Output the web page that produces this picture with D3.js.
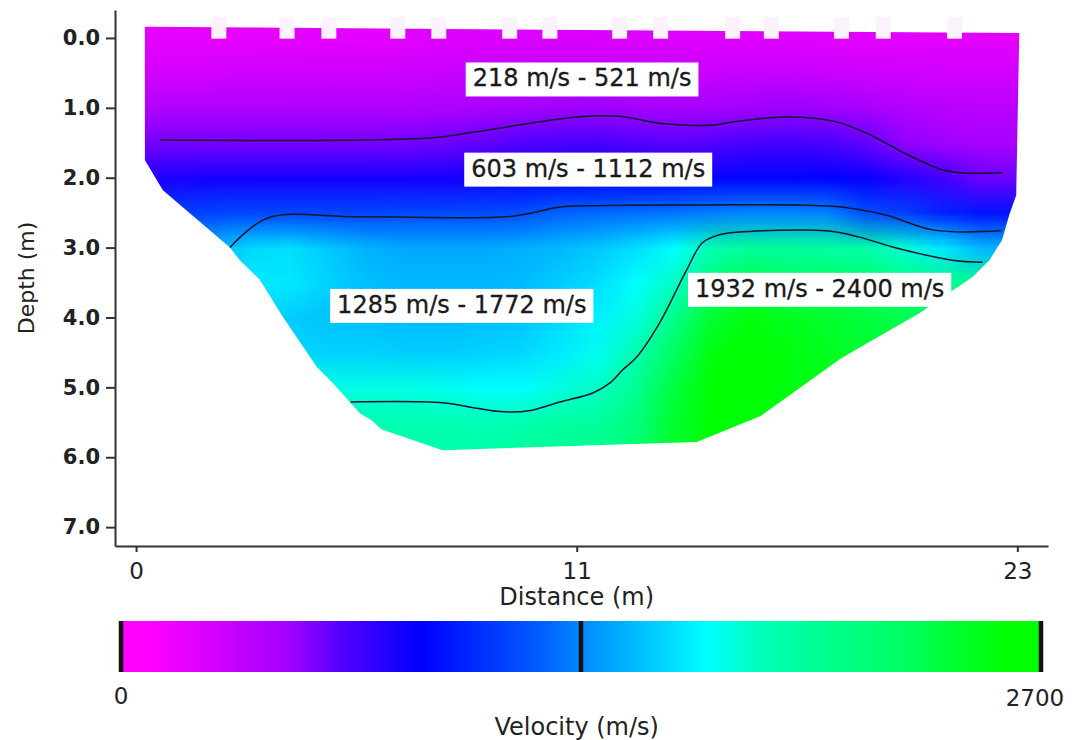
<!DOCTYPE html>
<html>
<head>
<meta charset="utf-8">
<script src="https://cdn.jsdelivr.net/npm/d3@7"></script>
<style>
  body { margin: 0; background: #fff; }
  svg { display: block; font-family: "DejaVu Sans", sans-serif; }
  .axis path, .axis line { stroke: #333; stroke-width: 2; }
  .axis text { fill: #222; }
</style>
</head>
<body>
<div id="chart"></div>
<script>
// grid of the velocity model: one column per metre, one row per half metre of depth
const distances = [0, 1, 2, 3, 4, 5, 6, 7, 8, 9, 10, 11, 12, 13, 14, 15, 16, 17, 18, 19, 20, 21, 22, 23];
const depths = [0, 0.5, 1, 1.5, 2, 2.5, 3, 3.5, 4, 4.5, 5, 5.5, 6];

// velocity (m/s), velocity[column][row]
const velocity = [
  [190, 280, 430, 580, 800, 1100, 1350, 1500, 1530, 1600, 1790, 1900, 1950],
  [190, 280, 430, 580, 810, 1120, 1400, 1550, 1550, 1600, 1790, 1900, 1950],
  [190, 280, 430, 580, 820, 1140, 1500, 1620, 1580, 1600, 1790, 1900, 1950],
  [190, 290, 430, 580, 820, 1150, 1600, 1660, 1580, 1600, 1790, 1900, 1950],
  [200, 290, 430, 580, 820, 1150, 1620, 1650, 1560, 1600, 1790, 1900, 1950],
  [200, 300, 430, 580, 820, 1150, 1550, 1580, 1530, 1580, 1780, 1900, 1950],
  [200, 300, 430, 580, 820, 1150, 1480, 1520, 1520, 1580, 1780, 1900, 1950],
  [210, 310, 440, 585, 820, 1160, 1450, 1500, 1510, 1570, 1780, 1900, 1950],
  [220, 320, 450, 595, 825, 1160, 1450, 1500, 1510, 1570, 1760, 1900, 1950],
  [230, 330, 460, 620, 835, 1170, 1450, 1500, 1520, 1580, 1720, 1890, 1950],
  [240, 340, 480, 650, 850, 1180, 1470, 1510, 1530, 1600, 1720, 1900, 2000],
  [240, 350, 500, 670, 870, 1250, 1500, 1560, 1600, 1660, 1790, 1980, 2050],
  [240, 350, 505, 680, 880, 1270, 1550, 1620, 1680, 1750, 1850, 2000, 2050],
  [230, 340, 490, 650, 880, 1290, 1620, 1720, 1790, 1900, 2050, 2150, 2250],
  [220, 330, 480, 630, 880, 1300, 1720, 1850, 2100, 2300, 2400, 2450, 2450],
  [220, 320, 480, 650, 900, 1330, 1900, 2200, 2450, 2550, 2600, 2600, 2550],
  [220, 330, 500, 680, 900, 1350, 2000, 2350, 2550, 2600, 2600, 2550, 2500],
  [220, 330, 510, 690, 900, 1350, 2000, 2300, 2500, 2550, 2550, 2500, 2450],
  [210, 320, 500, 670, 890, 1340, 1980, 2280, 2450, 2500, 2500, 2450, 2400],
  [200, 310, 470, 620, 860, 1180, 1950, 2250, 2400, 2450, 2450, 2450, 2400],
  [200, 290, 420, 530, 780, 1120, 1820, 2150, 2350, 2400, 2400, 2400, 2400],
  [200, 280, 400, 500, 700, 1020, 1650, 2100, 2300, 2400, 2400, 2400, 2400],
  [200, 280, 380, 470, 600, 950, 1500, 2050, 2250, 2350, 2400, 2400, 2400],
  [200, 280, 380, 470, 600, 950, 1480, 2000, 2250, 2350, 2400, 2400, 2400]
];

// outline of the covered area [distance, depth]
const boundary = [
  [0.23, -0.16], [0.23, 1.75], [0.31, 1.82], [0.70, 2.18], [2.45, 3.0], [2.71, 3.18],
  [3.23, 3.46], [3.83, 3.99], [4.72, 4.71], [5.14, 4.94], [5.84, 5.37], [6.15, 5.47],
  [6.4, 5.6], [8.0, 5.9], [14.63, 5.78], [16.3, 5.41], [18.41, 4.58], [20.44, 3.94],
  [21.56, 3.52], [21.83, 3.42], [22.27, 3.18], [22.6, 2.89], [22.79, 2.53], [22.97, 2.25],
  [23.05, -0.07]
];

// geophone positions along the top (m)
const geophones = [2.16, 3.94, 5.03, 6.83, 7.9, 9.75, 10.8, 12.62, 13.69, 15.57, 16.58, 18.41, 19.5, 21.36];

// layer boundaries [distance, depth]
const contourTop = [
  [0.63, 1.46], [7.67, 1.43], [8.79, 1.35], [10.53, 1.2], [11.5, 1.13], [12.62, 1.12],
  [13.66, 1.22], [15.0, 1.25], [15.6, 1.2], [16.9, 1.13], [18.2, 1.19], [19.1, 1.37],
  [20.1, 1.66], [21.0, 1.88], [21.5, 1.93], [22.6, 1.93]
];
const contourMid = [
  [2.45, 3.0], [3.42, 2.58], [5.84, 2.56], [9.83, 2.55], [11.06, 2.42], [11.9, 2.4],
  [14.7, 2.39], [18.2, 2.41], [19.53, 2.53], [20.83, 2.75], [22.58, 2.76]
];
const contourDeep = [
  [5.6, 5.21], [8.0, 5.22], [8.9, 5.3], [9.6, 5.35], [10.3, 5.33], [11.06, 5.21],
  [11.92, 5.08], [12.36, 4.94], [12.7, 4.75], [13.06, 4.57], [13.66, 4.08], [14.37, 3.32],
  [14.78, 2.93], [15.2, 2.82], [15.67, 2.78], [18.02, 2.76], [18.88, 2.85], [19.74, 2.99],
  [21.3, 3.18], [22.09, 3.21]
];

// zone labels
const zoneLabels = ['218 m/s - 521 m/s', '603 m/s - 1112 m/s', '1285 m/s - 1772 m/s', '1932 m/s - 2400 m/s'];
const zoneDistance = [11.64, 11.8, 8.5, 17.84];
const zoneDepth = [0.58, 1.87, 3.82, 3.59];

// axes
const depthTicks = [0, 1, 2, 3, 4, 5, 6, 7];
const distanceTicks = [0, 11.5, 23];
const distanceTickLabels = ['0', '11', '23'];

// colour scale
const velStops = [0, 80, 500, 650, 880, 1240, 1370, 1720, 1900, 2300, 2590, 2700];
const colorStops = ['#ff00ff', '#ff00ff', '#a000ff', '#5000ff', '#0000ff', '#0060ff',
  '#0090ff', '#00ffff', '#00ffb0', '#00ff60', '#00ff00', '#00ff00'];
const velMax = 2700;
const barTicks = [0, 1350, 2700];

const width = 1072, height = 740;

const svg = d3.select('#chart').append('svg')
  .attr('width', width)
  .attr('height', height);

const x = d3.scaleLinear().domain([-0.55, 23.8]).range([115, 1048]);
const y = d3.scaleLinear().domain([-0.4, 7.27]).range([10, 546]);
const color = d3.scaleLinear().domain(velStops).range(colorStops)
  .interpolate(d3.interpolateRgb).clamp(true);

// Paint the grid into a tiny canvas and let the browser smooth it up to size
const nCols = distances.length, nRows = depths.length;
const small = document.createElement('canvas');
small.width = nCols;
small.height = nRows;
const sctx = small.getContext('2d');
const img = sctx.createImageData(nCols, nRows);
velocity.forEach((col, i) => {
  col.forEach((v, j) => {
    const c = d3.rgb(color(v));
    const k = (j * nCols + i) * 4;
    img.data[k] = c.r;
    img.data[k + 1] = c.g;
    img.data[k + 2] = c.b;
    img.data[k + 3] = 255;
  });
});
sctx.putImageData(img, 0, 0);

const halfX = (distances[1] - distances[0]) / 2;
const halfZ = (depths[1] - depths[0]) / 2;
const gx0 = x(distances[0] - halfX), gx1 = x(distances[nCols - 1] + halfX);
const gy0 = y(depths[0] - halfZ), gy1 = y(depths[nRows - 1] + halfZ);

const big = document.createElement('canvas');
big.width = Math.round(gx1 - gx0);
big.height = Math.round(gy1 - gy0);
const bctx = big.getContext('2d');
bctx.imageSmoothingEnabled = true;
bctx.drawImage(small, 0, 0, big.width, big.height);

const defs = svg.append('defs');
defs.append('clipPath').attr('id', 'model')
  .append('path')
  .attr('d', d3.line().x(d => x(d[0])).y(d => y(d[1])).curve(d3.curveLinearClosed)(boundary));

svg.append('image')
  .attr('href', big.toDataURL())
  .attr('x', gx0)
  .attr('y', gy0)
  .attr('width', big.width)
  .attr('height', big.height)
  .attr('preserveAspectRatio', 'none')
  .attr('clip-path', 'url(#model)');

// geophone notches
svg.append('g').selectAll('rect')
  .data(geophones)
  .join('rect')
  .attr('x', d => x(d) - 7.5)
  .attr('y', y(-0.3))
  .attr('width', 15)
  .attr('height', y(0.01) - y(-0.3))
  .attr('fill', '#fcf2fd');

// contour lines
const contourLine = d3.line()
  .x(d => x(d[0]))
  .y(d => y(d[1]))
  .curve(d3.curveCatmullRom.alpha(0.5));

svg.append('g').selectAll('path')
  .data([contourTop, contourMid, contourDeep])
  .join('path')
  .attr('d', contourLine)
  .attr('fill', 'none')
  .attr('stroke', '#15152a')
  .attr('stroke-width', 1.5);

// zone labels in white boxes
const labels = svg.append('g').selectAll('g')
  .data(zoneLabels)
  .join('g')
  .attr('transform', (d, i) => `translate(${x(zoneDistance[i])},${y(zoneDepth[i])})`);

labels.append('text')
  .attr('text-anchor', 'middle')
  .attr('dominant-baseline', 'central')
  .attr('font-size', 24)
  .attr('fill', '#1a1a1a')
  .attr('stroke', '#1a1a1a')
  .attr('stroke-width', 0.3)
  .text(d => d);

labels.each(function() {
  const g = d3.select(this);
  const b = g.select('text').node().getBBox();
  g.insert('rect', 'text')
    .attr('x', b.x - 7)
    .attr('y', b.y - 2)
    .attr('width', b.width + 14)
    .attr('height', b.height + 6)
    .attr('fill', '#fff');
});

// axes
svg.append('g')
  .attr('class', 'axis')
  .attr('transform', `translate(${x.range()[0]},0)`)
  .call(d3.axisLeft(y).tickValues(depthTicks).tickFormat(d3.format('.1f'))
    .tickSize(9).tickSizeOuter(0).tickPadding(6))
  .call(g => g.selectAll('text').attr('font-size', 21).attr('font-weight', 'bold')
    .attr('font-family', '"DejaVu Sans", sans-serif'));

svg.append('g')
  .attr('class', 'axis')
  .attr('transform', `translate(0,${y.range()[1]})`)
  .call(d3.axisBottom(x).tickValues(distanceTicks).tickFormat((d, i) => distanceTickLabels[i])
    .tickSize(6).tickSizeOuter(0).tickPadding(11))
  .call(g => g.selectAll('text').attr('font-size', 23)
    .attr('font-family', '"DejaVu Sans", sans-serif'));

svg.append('text')
  .attr('transform', `translate(26,${(y.range()[0] + y.range()[1]) / 2}) rotate(-90)`)
  .attr('text-anchor', 'middle')
  .attr('dominant-baseline', 'central')
  .attr('font-size', 22)
  .attr('fill', '#222')
  .text('Depth (m)');

svg.append('text')
  .attr('x', x(11.5))
  .attr('y', 597)
  .attr('text-anchor', 'middle')
  .attr('dominant-baseline', 'central')
  .attr('font-size', 24)
  .attr('fill', '#222')
  .text('Distance (m)');

// colour bar
const cb = d3.scaleLinear().domain([0, velMax]).range([121, 1041]);
const grad = defs.append('linearGradient').attr('id', 'velGrad');
grad.selectAll('stop')
  .data(velStops)
  .join('stop')
  .attr('offset', d => d / velMax)
  .attr('stop-color', (d, i) => colorStops[i]);

svg.append('rect')
  .attr('x', cb(0))
  .attr('y', 621)
  .attr('width', cb(velMax) - cb(0))
  .attr('height', 51)
  .attr('fill', 'url(#velGrad)');

svg.append('g').selectAll('line')
  .data(barTicks)
  .join('line')
  .attr('x1', d => cb(d))
  .attr('x2', d => cb(d))
  .attr('y1', 621)
  .attr('y2', 672)
  .attr('stroke', '#111')
  .attr('stroke-width', 4.5);

svg.append('text')
  .attr('x', cb(0))
  .attr('y', 696)
  .attr('text-anchor', 'middle')
  .attr('dominant-baseline', 'central')
  .attr('font-size', 23)
  .attr('fill', '#222')
  .text('0');

svg.append('text')
  .attr('x', cb(velMax) - 6)
  .attr('y', 698)
  .attr('text-anchor', 'middle')
  .attr('dominant-baseline', 'central')
  .attr('font-size', 23)
  .attr('fill', '#222')
  .text(String(velMax));

svg.append('text')
  .attr('x', x(11.5))
  .attr('y', 727)
  .attr('text-anchor', 'middle')
  .attr('dominant-baseline', 'central')
  .attr('font-size', 24)
  .attr('fill', '#222')
  .text('Velocity (m/s)');
</script>
</body>
</html>
